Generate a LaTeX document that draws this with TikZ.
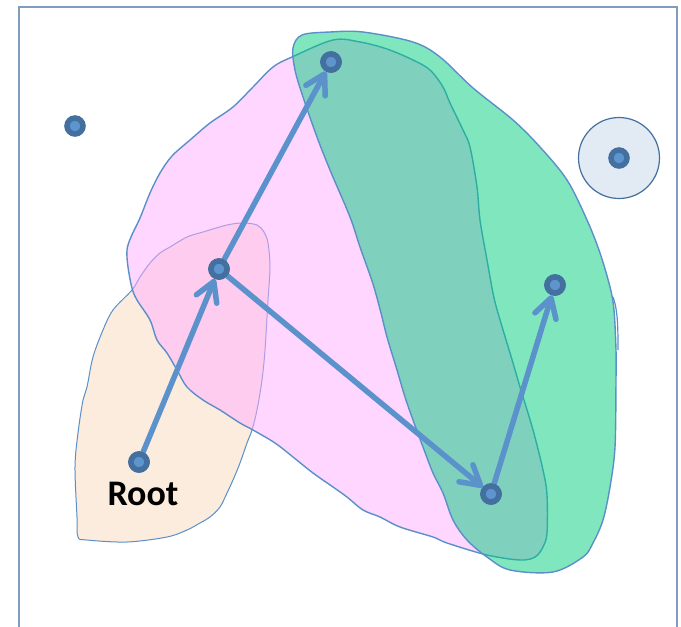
\documentclass[tikz,border=0pt]{standalone}
\usepackage{fontspec}
\setmainfont{Carlito}
\usetikzlibrary{arrows.meta}
\definecolor{frameC}{HTML}{809DBE}
\definecolor{edgeC}{HTML}{5B8FC9}
\definecolor{peachC}{HTML}{FCECDE}
\definecolor{pinkC}{HTML}{FFADFF}
\definecolor{greenC}{HTML}{00CD7D}
\definecolor{ringC}{HTML}{44709F}
\definecolor{dotC}{HTML}{5E95CF}
\definecolor{haloC}{HTML}{E2EAF4}
\definecolor{arrowC}{HTML}{5B92CC}
\tikzset{
  region/.style={draw=edgeC, line width=1.4pt},
  vertex/.style={circle, fill=dotC, draw=ringC, line width=5.5pt, inner sep=0pt, minimum size=16pt},
  link/.style={draw=arrowC, line width=5.5pt, line cap=round,
    -{Straight Barb[length=19pt, width=22pt, round]}},
  label/.style={font=\fontsize{36}{40}\selectfont\bfseries, text=black, inner sep=0pt}
}
\begin{document}
\begin{tikzpicture}[x=1pt,y=-1pt]
\useasboundingbox (0,0) rectangle (681,627);
% frame
\draw[frameC, line width=2pt] (18.5,640) -- (18.5,7) -- (677,7) -- (677,640);
% peach region
\draw[region, line width=1pt, fill=peachC] plot[smooth cycle, tension=0.55] coordinates {
 (132,290) (140,277) (150,263) (160,253) (170,247) (187,237) (203,232) (227,225) (243,223)
 (257,225) (264,232) (268,243) (270,267) (268,300) (265,350) (262,380) (257,410) (252,430)
 (247,443) (240,463) (233,480) (227,493) (220,507) (210,517) (200,523) (187,530) (167,537)
 (127,542) (87,540) (78,537) (77,517) (75,467) (78,433) (83,400) (87,387) (93,357) (103,330) (113,310)};
% pink region
\draw[region, fill=pinkC, fill opacity=0.5] plot[smooth cycle, tension=0.55] coordinates {
 (292,57) (333,40) (360,42) (387,49) (413,60) (430,70) (443,87) (450,103) (463,130)
 (470,147) (477,187) (480,220) (487,260) (493,293) (498,313) (513,363) (520,387) (533,430)
 (543,470) (547,495) (547,533) (543,547) (535,557) (520,560) (487,555) (447,543) (433,537)
 (400,527) (380,517) (363,510) (347,497) (333,487) (313,473) (293,457) (275,443) (253,430)
 (240,423) (220,410) (203,400) (187,387) (177,370) (167,353) (157,340) (150,320) (137,300)
 (132,288) (128,267) (127,250) (131,237) (140,218) (150,193) (160,173) (172,156) (190,140)
 (210,123) (233,107) (253,87) (273,67)};
% green region
\draw[region, fill=greenC, fill opacity=0.5] plot[smooth cycle, tension=0.55] coordinates {
 (302,35) (330,32) (363,32) (413,42) (440,57) (473,88) (513,120) (540,147) (567,180)
 (587,220) (600,253) (610,287) (614,310) (616,350) (616,380) (615,447) (610,487) (603,520)
 (593,543) (583,557) (553,572) (510,570) (487,557) (467,540) (453,520) (443,493) (433,473)
 (423,447) (413,420) (405,397) (397,370) (387,337) (381,313) (373,284) (360,247) (350,217)
 (330,170) (317,137) (303,97) (295,70) (293,48)};
\draw[edgeC, line width=1.2pt] (613,297) .. controls (618,310) and (618,330) .. (618,350);
% halo circle
\draw[draw=ringC, line width=1.2pt, fill=haloC] (619,158) circle[radius=40.5pt];
% vertices
\node[vertex] (root) at (139,462) {};
\node[vertex] (mid) at (219,269) {};
\node[vertex] (top) at (331,62) {};
\node[vertex] (low) at (491,494) {};
\node[vertex] (right) at (555,285) {};
\node[vertex] (lone) at (75,126) {};
\node[vertex] (iso) at (619,158) {};
% arrows
\draw[link] (root) -- (mid);
\draw[link] (mid) -- (top);
\draw[link] (mid) -- (low);
\draw[link] (low) -- (right);
% redraw vertices over arrows
\node[vertex] at (root) {};
\node[vertex] at (mid) {};
\node[vertex] at (top) {};
\node[vertex] at (low) {};
\node[vertex] at (right) {};
% label
\node[label] (rootlabel) at (143,494) {Root};
\end{tikzpicture}
\end{document}
